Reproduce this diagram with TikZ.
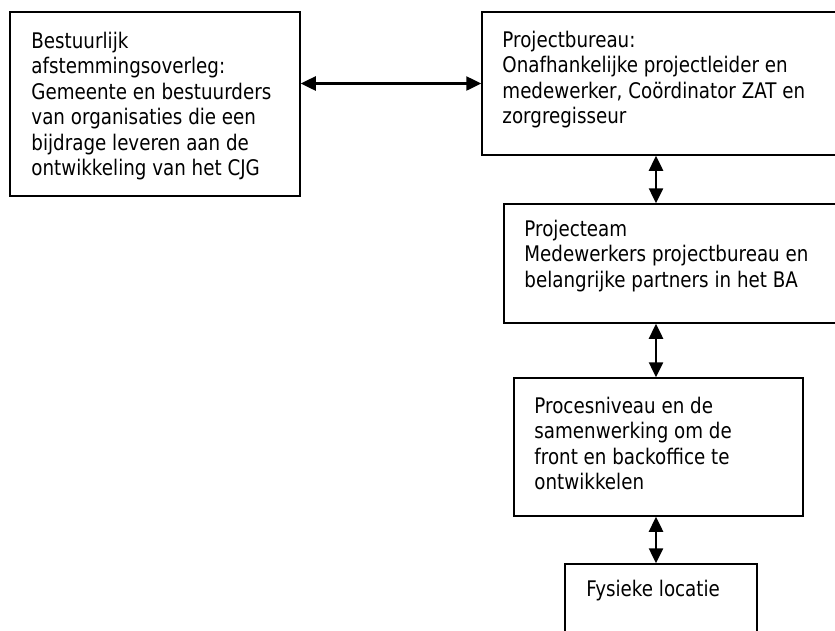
\documentclass[tikz,border=0pt]{standalone}
\usepackage{fontspec}
\setmainfont{DejaVu Sans}[FakeStretch=0.85]
\usetikzlibrary{arrows.meta,calc}
\begin{document}
\begin{tikzpicture}[x=1pt,y=-1pt,
  box/.style={draw=black, line width=1.5pt, rectangle, inner sep=0pt},
  txt/.style={anchor=north west, inner sep=0pt, align=left,
    font=\fontsize{21.5pt}{25.5pt}\selectfont},
  link/.style={{Triangle[length=15pt,width=14pt]}-{Triangle[length=15pt,width=14pt]},
    line width=2.5pt}]
\useasboundingbox (0,0) rectangle (835,630);
\clip (0,0) rectangle (835,630);

% boxes (the two upper right ones and the last one run past the page edge)
\node[box, minimum width=290pt, minimum height=184pt] (b1) at (155,104) {};
\node[box, minimum width=368pt, minimum height=143pt] (b2) at (666,83.5) {};
\node[box, minimum width=346pt, minimum height=119pt] (b3) at (677,263.5) {};
\node[box, minimum width=289pt, minimum height=138pt] (b4) at (658.5,447) {};
\node[box, minimum width=192pt, minimum height=96pt] (b5) at (661,612) {};

% texts
\node[txt] (t1) at ($(b1.north west)+(22,20.7)$) {Bestuurlijk\\afstemmingsoverleg:\\Gemeente en bestuurders\\van organisaties die een\\bijdrage leveren aan de\\ontwikkeling van het CJG};
\node[txt] (t2) at ($(b2.north west)+(21,19.7)$) {Projectbureau:\\Onafhankelijke projectleider en\\medewerker, Coördinator ZAT en\\zorgregisseur};
\node[txt] (t3) at ($(b3.north west)+(21,16.7)$) {Projecteam\\Medewerkers projectbureau en\\belangrijke partners in het BA};
\node[txt] (t4) at ($(b4.north west)+(21,19.7)$) {Procesniveau en de\\samenwerking om de\\front en backoffice te\\ontwikkelen};
\node[txt] (t5) at ($(b5.north west)+(22,16.7)$) {Fysieke locatie};

% connectors
\coordinate (ax) at (656,0);
\draw[link] (b2.west -| b1.east) -- (b2.west);
\draw[link] (b2.south -| ax) -- (b3.north -| ax);
\draw[link] (b3.south -| ax) -- (b4.north -| ax);
\draw[link] (b4.south -| ax) -- (b5.north -| ax);
\end{tikzpicture}
\end{document}
